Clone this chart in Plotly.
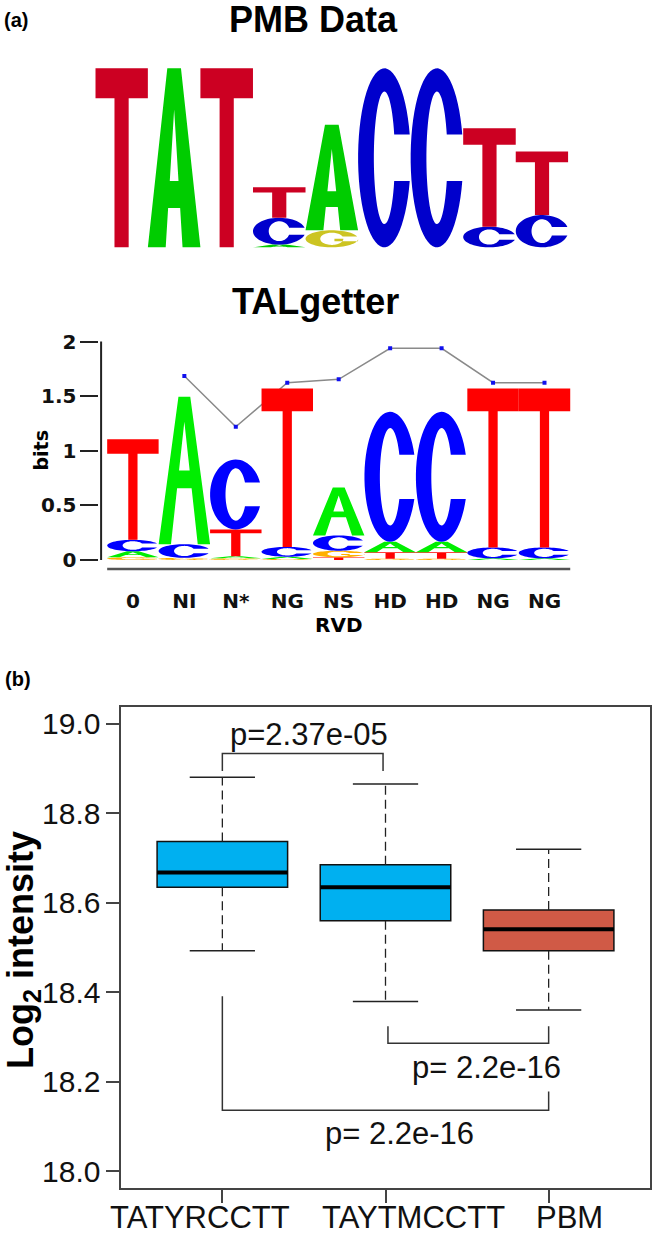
import numpy as np
import plotly.graph_objects as go

W, H = 652, 1235

# ---------------- data ----------------
# PMB Data logo: stacks bottom -> top, (letter, bits)
pmb_stacks = [
    [("T", 2.00)],
    [("A", 2.00)],
    [("T", 2.00)],
    [("A", 0.03), ("C", 0.30), ("T", 0.34)],
    [("G", 0.19), ("A", 1.18)],
    [("C", 2.00)],
    [("C", 2.00)],
    [("C", 0.23), ("T", 1.10)],
    [("C", 0.36), ("T", 0.71)],
]

# TALgetter logo
tal_rvd = ["0", "NI", "N*", "NG", "NS", "HD", "HD", "NG", "NG"]
tal_stacks = [
    [("G", 0.025), ("A", 0.055), ("C", 0.105), ("T", 0.92)],
    [("G", 0.020), ("C", 0.125), ("A", 1.35)],
    [("G", 0.015), ("A", 0.020), ("T", 0.245), ("C", 0.64)],
    [("G", 0.010), ("A", 0.020), ("C", 0.09), ("T", 1.45)],
    [("T", 0.025), ("G", 0.060), ("C", 0.14), ("A", 0.44)],
    [("G", 0.012), ("T", 0.060), ("A", 0.095), ("C", 1.19)],
    [("G", 0.012), ("T", 0.060), ("A", 0.095), ("C", 1.19)],
    [("A", 0.015), ("C", 0.100), ("T", 1.456)],
    [("A", 0.015), ("C", 0.100), ("T", 1.456)],
]
tal_line_pos = [1, 2, 3, 4, 5, 6, 7, 8]
tal_line_vals = [1.685, 1.22, 1.624, 1.655, 1.938, 1.938, 1.624, 1.624]
tal_yticks = [0, 0.5, 1, 1.5, 2]
tal_yticktext = ["0", "0.5", "1", "1.5", "2"]

# Box plot (b)
box_cats = ["TATYRCCTT", "TAYTMCCTT", "PBM"]
box_pos = [1, 2, 3]
box_label_x = [0.862, 2.17, 3.13]
box_q1 = [18.635, 18.560, 18.493]
box_med = [18.668, 18.635, 18.541]
box_q3 = [18.737, 18.685, 18.584]
box_lo = [18.493, 18.379, 18.360]
box_hi = [18.881, 18.866, 18.720]
box_colors = ["#00B0F0", "#00B0F0", "#D05A46"]
box_yticks = [18.0, 18.2, 18.4, 18.6, 18.8, 19.0]

# significance brackets: (x list, y list)
br1_x = [1, 1, 1.985, 1.985]
br1_y = [18.895, 18.934, 18.934, 18.895]
br2_x = [2.015, 2.015, 3, 3]
br2_y = [18.324, 18.286, 18.286, 18.324]
br3_x = [1, 1, 3, 3]
br3_y = [18.391, 18.136, 18.136, 18.178]
p_texts = ["p=2.37e-05", "p= 2.2e-16", "p= 2.2e-16"]
p_x = [1.53, 2.616, 2.085]
p_y = [18.977, 18.232, 18.083]


# ---------------- glyph geometry (unit box) ----------------
def glyph_T(bar, stem):
    a, b = 0.5 - stem / 2, 0.5 + stem / 2
    return [[(a, 0), (b, 0), (b, 1 - bar), (1, 1 - bar), (1, 1), (0, 1), (0, 1 - bar), (a, 1 - bar)]]


def glyph_A(top_w, leg_in, apex, cb0, cb1):
    k = (0.5 - leg_in) / apex
    lx = lambda y: leg_in + k * y
    rx = lambda y: 1 - leg_in - k * y
    outer = [(0, 0), (leg_in, 0), (lx(cb0), cb0), (rx(cb0), cb0), (1 - leg_in, 0), (1, 0),
             (0.5 + top_w / 2, 1), (0.5 - top_w / 2, 1)]
    hole = [(lx(cb1), cb1), (0.5, apex), (rx(cb1), cb1)]
    return [outer, hole]


def ring(sx, sy, gap_top, gap_bot, n=60):
    rxi, ryi = 0.5 - sx, 0.5 - sy
    to1 = np.arcsin(np.clip(gap_top / 0.5, -1, 1))
    ti1 = np.arcsin(np.clip(gap_top / ryi, -1, 1))
    to2 = 2 * np.pi - np.arcsin(np.clip(gap_bot / 0.5, -1, 1))
    ti2 = 2 * np.pi - np.arcsin(np.clip(gap_bot / ryi, -1, 1))
    t = np.linspace(to1, to2, n)
    pts = [(0.5 + 0.5 * np.cos(a), 0.5 + 0.5 * np.sin(a)) for a in t]
    t = np.linspace(ti2, ti1, n)
    pts += [(0.5 + rxi * np.cos(a), 0.5 + ryi * np.sin(a)) for a in t]
    return pts


def glyph_C(sx, sy, gap):
    return [ring(sx, sy, gap, gap)]


def glyph_G(sx, sy, gap):
    r = ring(sx, sy, gap, 0.0)
    bar = [(0.55, 0.36), (1.0, 0.36), (1.0, 0.5), (0.55, 0.5)]
    return [r, bar]


PMB_GLYPHS = {
    "T": glyph_T(0.168, 0.27),
    "A": glyph_A(0.26, 0.34, 0.77, 0.22, 0.37),
    "C": glyph_C(0.30, 0.13, 0.13),
    "G": glyph_G(0.28, 0.14, 0.13),
}
TAL_GLYPHS = {
    "T": glyph_T(0.143, 0.18),
    "A": glyph_A(0.23, 0.24, 0.83, 0.38, 0.50),
    "C": glyph_C(0.30, 0.125, 0.17),
    "G": glyph_G(0.28, 0.14, 0.15),
}
PMB_COLORS = {"T": "#CC0022", "A": "#00CC00", "C": "#0000CC", "G": "#CCC422"}
TAL_COLORS = {"T": "#FF0000", "A": "#00EE00", "C": "#0000FF", "G": "#FFB000"}


def letter_path(polys, xc, y0, h, w=1.0):
    s = ""
    for poly in polys:
        for i, (u, v) in enumerate(poly):
            X = xc - w / 2 + u * w
            Y = y0 + v * h
            s += ("M" if i == 0 else "L") + f"{X:.4f},{Y:.5f}"
        s += "Z"
    return s


def logo_shapes(stacks, glyphs, colors, xref, yref):
    shapes = []
    for i, stack in enumerate(stacks):
        y0 = 0.0
        for letter, h in stack:
            shapes.append(dict(type="path", xref=xref, yref=yref,
                               path=letter_path(glyphs[letter], i, y0, h),
                               fillcolor=colors[letter], line=dict(width=0),
                               layer="above"))
            y0 += h
    return shapes


def px(x):
    return x / W


def py(y):
    return 1 - y / H


fig = go.Figure()

# ---------- axes layout (pixel-based domains) ----------
pmb_xr = [-0.5, 8.5]
pmb_yr = [-0.02, 2.06]
pmb_scale = 89.5  # px per bit
pmb_y0px = 247.3
tal_xr = [-0.65, 8.6]
tal_xs = 51.45
tal_x0px = 132.9  # pixel of x=0
tal_yr = [-0.10, 2.03]
tal_ys = 109.2
tal_y0px = 560.0
bx_xr = [0.38, 3.62]
bx_yr = [17.962, 19.038]

tal_font = dict(family="DejaVu Sans", size=20, color="#111", weight="bold")

layout = dict(
    width=W, height=H, margin=dict(l=0, r=0, t=0, b=0, autoexpand=False),
    paper_bgcolor="white", plot_bgcolor="rgba(0,0,0,0)", showlegend=False,
    xaxis=dict(domain=[px(95.3), px(568.3)], range=pmb_xr, visible=False, anchor="y", automargin=False),
    yaxis=dict(domain=[py(pmb_y0px - (pmb_yr[0]) * pmb_scale), py(pmb_y0px - pmb_yr[1] * pmb_scale)],
               range=pmb_yr, visible=False, anchor="x", automargin=False),
    xaxis2=dict(domain=[px(tal_x0px + tal_xr[0] * tal_xs), px(tal_x0px + tal_xr[1] * tal_xs)],
                range=tal_xr, anchor="y2", showgrid=False, zeroline=False, showline=False,
                automargin=False, tickangle=0,
                tickmode="array", tickvals=list(range(9)), ticktext=tal_rvd,
                ticks="outside", ticklen=12, tickcolor="rgba(0,0,0,0)",
                tickfont=tal_font),
    yaxis2=dict(domain=[py(tal_y0px - tal_yr[0] * tal_ys), py(tal_y0px - tal_yr[1] * tal_ys)],
                range=tal_yr, anchor="x2", showgrid=False, zeroline=False, showline=False,
                automargin=False,
                tickmode="array", tickvals=tal_yticks, ticktext=tal_yticktext,
                ticks="outside", ticklen=18, tickwidth=2, tickcolor="#222",
                tickfont=tal_font),
    xaxis3=dict(domain=[px(121.2), px(649.8)], range=bx_xr, anchor="y3",
                showgrid=False, zeroline=False, showline=True, mirror=True,
                linecolor="#444", linewidth=1.5, automargin=False, showticklabels=False,
                tickmode="array", tickvals=box_pos,
                ticks="outside", ticklen=13, tickwidth=1.5, tickcolor="#444"),
    yaxis3=dict(domain=[py(1188), py(707)], range=bx_yr, anchor="x3",
                showgrid=False, zeroline=False, showline=True, mirror=True,
                linecolor="#444", linewidth=1.5, automargin=False,
                tickmode="array", tickvals=box_yticks, ticktext=[f"{v:.1f}" for v in box_yticks],
                ticks="outside", ticklen=13, tickwidth=1.5, tickcolor="#444",
                tickfont=dict(family="Liberation Sans", size=30, color="#111")),
)
fig.update_layout(**layout)

shapes = []
shapes += logo_shapes(pmb_stacks, PMB_GLYPHS, PMB_COLORS, "x", "y")
shapes += logo_shapes(tal_stacks, TAL_GLYPHS, TAL_COLORS, "x2", "y2")
shapes.append(dict(type="line", xref="paper", yref="y2", x0=px(101.1), x1=px(101.1), y0=0, y1=2,
                   line=dict(color="#222", width=2)))
shapes.append(dict(type="line", xref="x2", yref="y2", x0=-0.5, x1=8.5, y0=-0.083, y1=-0.083,
                   line=dict(color="#555", width=2.5)))
fig.update_layout(shapes=shapes)

fig.add_trace(go.Scatter(x=tal_line_pos, y=tal_line_vals, xaxis="x2", yaxis="y2", mode="lines+markers",
                         line=dict(color="#8A8A8A", width=1.5),
                         marker=dict(symbol="square", size=4, color="#1010EE")))

# ---------- box plot ----------
for i in range(3):
    x = box_pos[i]
    fig.add_trace(go.Scatter(x=[x, x, None, x, x], y=[box_q3[i], box_hi[i], None, box_q1[i], box_lo[i]],
                             xaxis="x3", yaxis="y3", mode="lines",
                             line=dict(color="#222", width=1.3, dash="9px,5px"), hoverinfo="skip"))
    fig.add_trace(go.Scatter(x=[x - 0.2, x + 0.2, None, x - 0.2, x + 0.2],
                             y=[box_hi[i], box_hi[i], None, box_lo[i], box_lo[i]],
                             xaxis="x3", yaxis="y3", mode="lines",
                             line=dict(color="#222", width=1.5), hoverinfo="skip"))
    fig.add_trace(go.Box(x=[x], q1=[box_q1[i]], median=[box_med[i]], q3=[box_q3[i]],
                         lowerfence=[box_q1[i]], upperfence=[box_q3[i]],
                         width=0.8, whiskerwidth=0, fillcolor=box_colors[i],
                         line=dict(color="#111", width=1.5), xaxis="x3", yaxis="y3",
                         boxpoints=False, name=box_cats[i]))
    fig.add_trace(go.Scatter(x=[x - 0.4, x + 0.4], y=[box_med[i], box_med[i]], xaxis="x3", yaxis="y3",
                             mode="lines", line=dict(color="#000", width=4), hoverinfo="skip"))

for bx, by in [(br1_x, br1_y), (br2_x, br2_y), (br3_x, br3_y)]:
    fig.add_trace(go.Scatter(x=bx, y=by, xaxis="x3", yaxis="y3", mode="lines",
                             line=dict(color="#333", width=1.5), hoverinfo="skip"))

ann = []
for t, x, y in zip(p_texts, p_x, p_y):
    ann.append(dict(text=t, x=x, y=y, xref="x3", yref="y3", showarrow=False,
                    font=dict(family="Liberation Sans", size=31, color="#111")))
for t, x in zip(box_cats, box_label_x):
    ann.append(dict(text=t, x=x, y=py(1217), xref="x3", yref="paper", showarrow=False,
                    yanchor="middle", font=dict(family="Liberation Sans", size=31, color="#111")))


def txt(text, x, y, size, family="Liberation Sans", angle=0, bold=True):
    return dict(text=text, x=px(x), y=py(y), xref="paper", yref="paper", showarrow=False,
                xanchor="center", yanchor="middle", textangle=angle,
                font=dict(family=family, size=size, color="#000", weight="bold" if bold else "normal"))


ann.append(txt("(a)", 16, 20, 20))
ann.append(txt("(b)", 18, 679, 20))
ann.append(txt("PMB Data", 313.4, 19.5, 36))
ann.append(txt("TALgetter", 315.5, 301, 36))
ann.append(txt("bits", 40.5, 450, 19, family="DejaVu Sans", angle=-90))
ann.append(txt("RVD", 338, 625, 20, family="DejaVu Sans"))
ann.append(txt("Log<sub>2</sub> intensity", 23, 950, 36, angle=-90))
fig.update_layout(annotations=ann)

fig.write_html("out.html", config={"displayModeBar": False},
               post_script="document.body.style.margin='0';document.body.style.overflow='hidden';")
